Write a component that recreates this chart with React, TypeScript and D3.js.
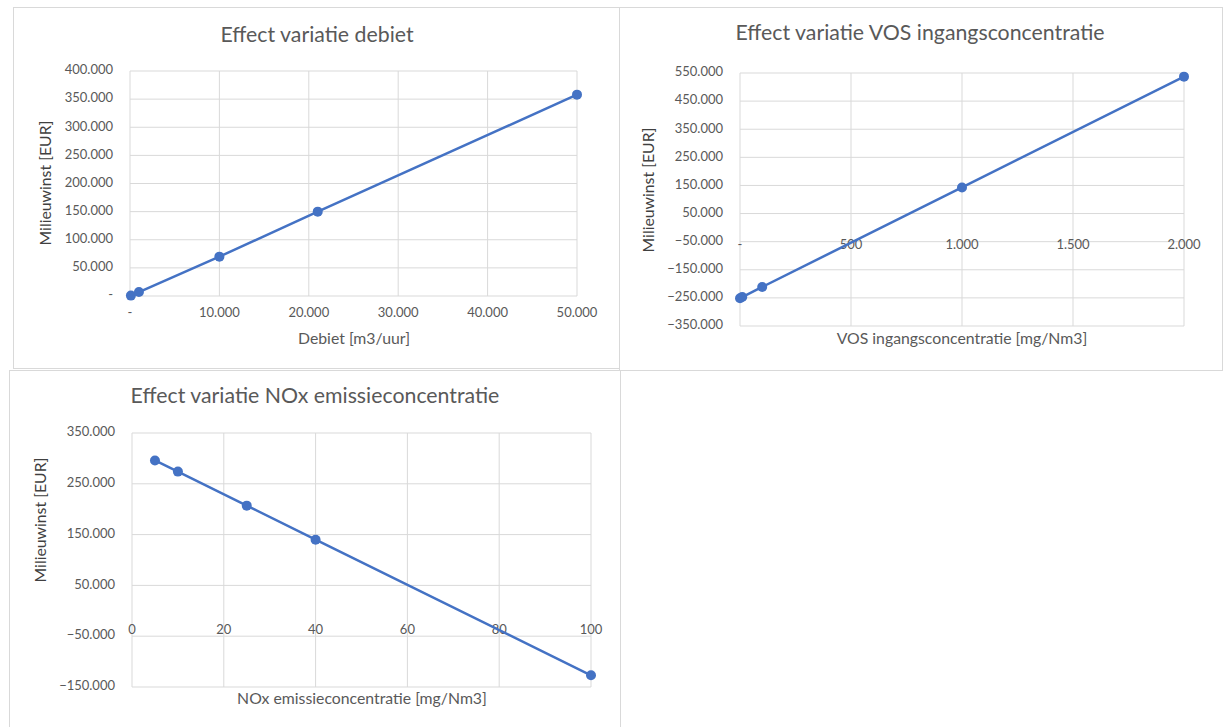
import React from "react";
import * as d3 from "d3";

// Debiet sensitivity
const debietX = [100, 1000, 10000, 21000, 50000];
const debietWinst = [700, 7000, 70000, 150000, 358000];
const debietXTicks = [0, 10000, 20000, 30000, 40000, 50000];
const debietYTicks = [0, 50000, 100000, 150000, 200000, 250000, 300000, 350000, 400000];

// VOS inlet concentration sensitivity
const vosX = [0, 10, 100, 1000, 2000];
const vosWinst = [-251000, -247000, -211000, 143000, 537000];
const vosXTicks = [0, 500, 1000, 1500, 2000];
const vosYTicks = [-350000, -250000, -150000, -50000, 50000, 150000, 250000, 350000, 450000, 550000];

// NOx emission concentration sensitivity
const noxX = [5, 10, 25, 40, 100];
const noxWinst = [296000, 274000, 207000, 140000, -127000];
const noxXTicks = [0, 20, 40, 60, 80, 100];
const noxYTicks = [-150000, -50000, 50000, 150000, 250000, 350000];

const nl = d3.formatLocale({ decimal: ",", thousands: ".", grouping: [3], currency: ["€", ""] });
const fmtThousands = nl.format(",.0f");
const acct = (v: number) => (v === 0 ? "-" : fmtThousands(v));
const plain = (v: number) => String(v);

const FONT = "Lato, 'Open Sans', sans-serif";
const TEXT = "#595959";
const DARK = "#404040";
const GRID = "#d9d9d9";
const LINE = "#4472c4";

type PanelProps = {
  frame: [number, number, number, number];
  title: string;
  titlePos: [number, number];
  xTitle: string;
  xTitlePos: [number, number];
  yTitlePos: [number, number];
  xs: number[];
  ys: number[];
  xDomain: [number, number];
  yDomain: [number, number];
  xRange: [number, number];
  yRange: [number, number];
  xTicks: number[];
  yTicks: number[];
  xFmt: (v: number) => string;
  yFmt: (v: number) => string;
  xLabelOffset: number;
};

function Panel(p: PanelProps) {
  const x = d3.scaleLinear().domain(p.xDomain).range(p.xRange);
  const y = d3.scaleLinear().domain(p.yDomain).range(p.yRange);
  const pts = p.xs.map((v, i) => [v, p.ys[i]] as [number, number]);
  const line = d3
    .line<[number, number]>()
    .x((d) => x(d[0]))
    .y((d) => y(d[1]));
  const [fx, fy, fw, fh] = p.frame;
  const zeroY = y(0);
  return (
    <g>
      <rect x={fx} y={fy} width={fw} height={fh} fill="#fff" stroke={GRID} strokeWidth={1} />
      {p.yTicks.map((t) => (
        <line key={"gy" + t} x1={p.xRange[0]} x2={p.xRange[1]} y1={y(t)} y2={y(t)} stroke={GRID} strokeWidth={1} />
      ))}
      {p.xTicks.map((t) => (
        <line key={"gx" + t} x1={x(t)} x2={x(t)} y1={p.yRange[0]} y2={p.yRange[1]} stroke={GRID} strokeWidth={1} />
      ))}
      {p.yTicks.map((t) => (
        <text key={"ly" + t} x={p.xRange[0] - 17} y={y(t)} textAnchor="end" dominantBaseline="middle" fontSize={13} fill={TEXT} fontFamily={FONT}>
          {p.yFmt(t)}
        </text>
      ))}
      {p.xTicks.map((t) => (
        <text key={"lx" + t} x={x(t)} y={zeroY + p.xLabelOffset} textAnchor="middle" dominantBaseline="middle" fontSize={13} fill={TEXT} fontFamily={FONT}>
          {p.xFmt(t)}
        </text>
      ))}
      <path d={line(pts) || ""} fill="none" stroke={LINE} strokeWidth={2.5} />
      {pts.map((d, i) => (
        <circle key={"pt" + i} cx={x(d[0])} cy={y(d[1])} r={5} fill={LINE} />
      ))}
      <text x={p.titlePos[0]} y={p.titlePos[1]} textAnchor="middle" dominantBaseline="middle" fontSize={21.3} fill={TEXT} fontFamily={FONT}>
        {p.title}
      </text>
      <text x={p.xTitlePos[0]} y={p.xTitlePos[1]} textAnchor="middle" dominantBaseline="middle" fontSize={15.8} fill={TEXT} fontFamily={FONT}>
        {p.xTitle}
      </text>
      <text
        transform={`translate(${p.yTitlePos[0]},${p.yTitlePos[1]}) rotate(-90)`}
        textAnchor="middle"
        dominantBaseline="middle"
        fontSize={15.8}
        fill={DARK}
        fontFamily={FONT}
      >
        Milieuwinst [EUR]
      </text>
    </g>
  );
}

export default function App() {
  return (
    <svg width={1223} height={727} style={{ position: "absolute", left: 0, top: 0, background: "#fff" }}>
      <rect x={0} y={0} width={1223} height={727} fill="#fff" />
      <Panel
        frame={[13.5, 7.5, 606, 361]}
        title="Effect variatie debiet"
        titlePos={[317, 37]}
        xTitle="Debiet [m3/uur]"
        xTitlePos={[354, 340]}
        yTitlePos={[47, 183]}
        xs={debietX}
        ys={debietWinst}
        xDomain={[0, 50000]}
        yDomain={[0, 400000]}
        xRange={[130, 577]}
        yRange={[296, 71]}
        xTicks={debietXTicks}
        yTicks={debietYTicks}
        xFmt={acct}
        yFmt={acct}
        xLabelOffset={18}
      />
      <Panel
        frame={[619.5, 7.5, 603, 363]}
        title="Effect variatie VOS ingangsconcentratie"
        titlePos={[920, 35]}
        xTitle="VOS ingangsconcentratie [mg/Nm3]"
        xTitlePos={[962, 340]}
        yTitlePos={[650, 190]}
        xs={vosX}
        ys={vosWinst}
        xDomain={[0, 2000]}
        yDomain={[-350000, 550000]}
        xRange={[740, 1184]}
        yRange={[326, 73]}
        xTicks={vosXTicks}
        yTicks={vosYTicks}
        xFmt={acct}
        yFmt={acct}
        xLabelOffset={18}
      />
      <Panel
        frame={[9.5, 370.5, 611, 357]}
        title="Effect variatie NOx emissieconcentratie"
        titlePos={[315, 398]}
        xTitle="NOx emissieconcentratie [mg/Nm3]"
        xTitlePos={[362, 700]}
        yTitlePos={[42, 520]}
        xs={noxX}
        ys={noxWinst}
        xDomain={[0, 100]}
        yDomain={[-150000, 350000]}
        xRange={[132, 591]}
        yRange={[687, 433]}
        xTicks={noxXTicks}
        yTicks={noxYTicks}
        xFmt={plain}
        yFmt={acct}
        xLabelOffset={20}
      />
    </svg>
  );
}
